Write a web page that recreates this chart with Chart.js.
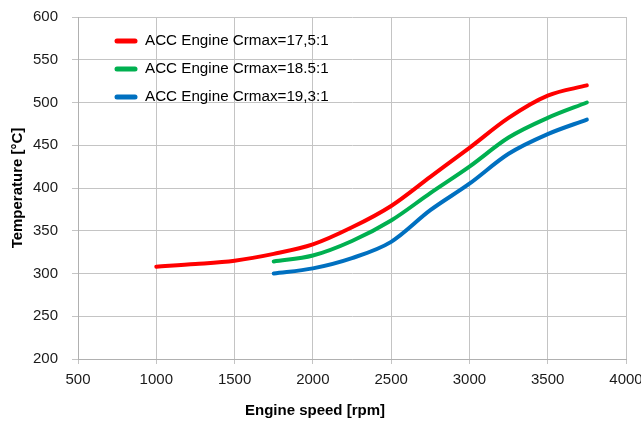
<!DOCTYPE html>
<html>
<head>
<meta charset="utf-8">
<script src="https://cdn.jsdelivr.net/npm/chart.js@4.4.1/dist/chart.umd.min.js"></script>
<style>
  html, body { margin: 0; padding: 0; background: #fff; }
  #wrap { width: 641px; height: 421px; }
</style>
</head>
<body>
<div id="wrap"><canvas id="tempChart" width="641" height="421"></canvas></div>
<script>
// engine speed [rpm] and temperature [°C]
const speedRed = [1000, 1250, 1500, 1750, 2000, 2250, 2500, 2750, 3000, 3250, 3500, 3750];
const tempRed = [308, 311, 315, 323, 334, 354, 379, 413, 447, 482, 508, 520];

const speedGreen = [1750, 2000, 2250, 2500, 2750, 3000, 3250, 3500, 3750];
const tempGreen = [314, 321, 338, 362, 394, 425, 459, 482, 500];

const speedBlue = [1750, 2000, 2250, 2500, 2750, 3000, 3250, 3500, 3750];
const tempBlue = [300, 306, 318, 337, 374, 405, 440, 463, 480];

const labels = ['ACC Engine Crmax=17,5:1', 'ACC Engine Crmax=18.5:1', 'ACC Engine Crmax=19,3:1'];
const colors = ['#ff0000', '#00b050', '#0070c0'];

const xTicks = [500, 1000, 1500, 2000, 2500, 3000, 3500, 4000];
const yTicks = [200, 250, 300, 350, 400, 450, 500, 550, 600];

function toPoints(xs, ys) {
    return xs.map((x, i) => ({ x: x, y: ys[i] }));
}

const font = 'Liberation Sans';

// legend inside the plot (top left) and the axis titles
const insideLegend = {
    id: 'insideLegend',
    afterDraw(chart) {
        const ctx = chart.ctx;
        ctx.save();
        chart.data.datasets.forEach((ds, i) => {
            const y = 41 + i * 28;
            ctx.strokeStyle = ds.borderColor;
            ctx.lineWidth = 5;
            ctx.lineCap = 'round';
            ctx.beginPath();
            ctx.moveTo(117, y);
            ctx.lineTo(135, y);
            ctx.stroke();
            ctx.fillStyle = '#000';
            ctx.font = '15.2px "' + font + '"';
            ctx.textBaseline = 'middle';
            ctx.fillText(ds.label, 145, y);
        });
        ctx.font = 'bold 15px "' + font + '"';
        ctx.textAlign = 'center';
        ctx.textBaseline = 'middle';
        ctx.fillText('Engine speed [rpm]', 315, 411);
        ctx.translate(18, 188);
        ctx.rotate(-Math.PI / 2);
        ctx.fillText('Temperature [°C]', 0, 0);
        ctx.restore();
    }
};

// drop the extra room chart.js keeps for overhanging tick labels
function noOverhang(axis) {
    axis.paddingTop = 0;
    axis.paddingBottom = 0;
    axis.paddingLeft = 0;
    axis.paddingRight = 0;
}

const config = {
    type: 'scatter',
    data: {
        datasets: [
            { label: labels[0], data: toPoints(speedRed, tempRed) },
            { label: labels[1], data: toPoints(speedGreen, tempGreen) },
            { label: labels[2], data: toPoints(speedBlue, tempBlue) }
        ].map((ds, i) => Object.assign(ds, {
            borderColor: colors[i],
            backgroundColor: colors[i],
            showLine: true,
            borderWidth: 4,
            pointRadius: 0,
            cubicInterpolationMode: 'monotone',
            borderCapStyle: 'round'
        }))
    },
    options: {
        responsive: false,
        animation: false,
        layout: { padding: { top: 17, right: 15, left: 0, bottom: 0 } },
        plugins: {
            legend: { display: false },
            tooltip: { enabled: false }
        },
        scales: {
            x: {
                type: 'linear',
                min: 500,
                max: 4000,
                afterBuildTicks: axis => { axis.ticks = xTicks.map(v => ({ value: v })); },
                afterFit: axis => { axis.height = 62; noOverhang(axis); },
                grid: { color: '#c4c4c4', tickLength: 5 },
                border: { color: '#b0b0b0' },
                ticks: { color: '#1a1a1a', font: { family: font, size: 15 }, padding: 7, maxRotation: 0,
                         callback: v => String(v) }
            },
            y: {
                min: 200,
                max: 600,
                afterBuildTicks: axis => { axis.ticks = yTicks.map(v => ({ value: v })); },
                afterFit: axis => { axis.width = 78; noOverhang(axis); },
                grid: { color: '#c4c4c4', tickLength: 6 },
                border: { color: '#b0b0b0' },
                ticks: { color: '#1a1a1a', font: { family: font, size: 15 }, padding: 14,
                         callback: v => String(v) }
            }
        }
    },
    plugins: [insideLegend]
};

window.onload = function() {
    const ctx = document.getElementById('tempChart').getContext('2d');
    new Chart(ctx, config);
};
</script>
</body>
</html>
